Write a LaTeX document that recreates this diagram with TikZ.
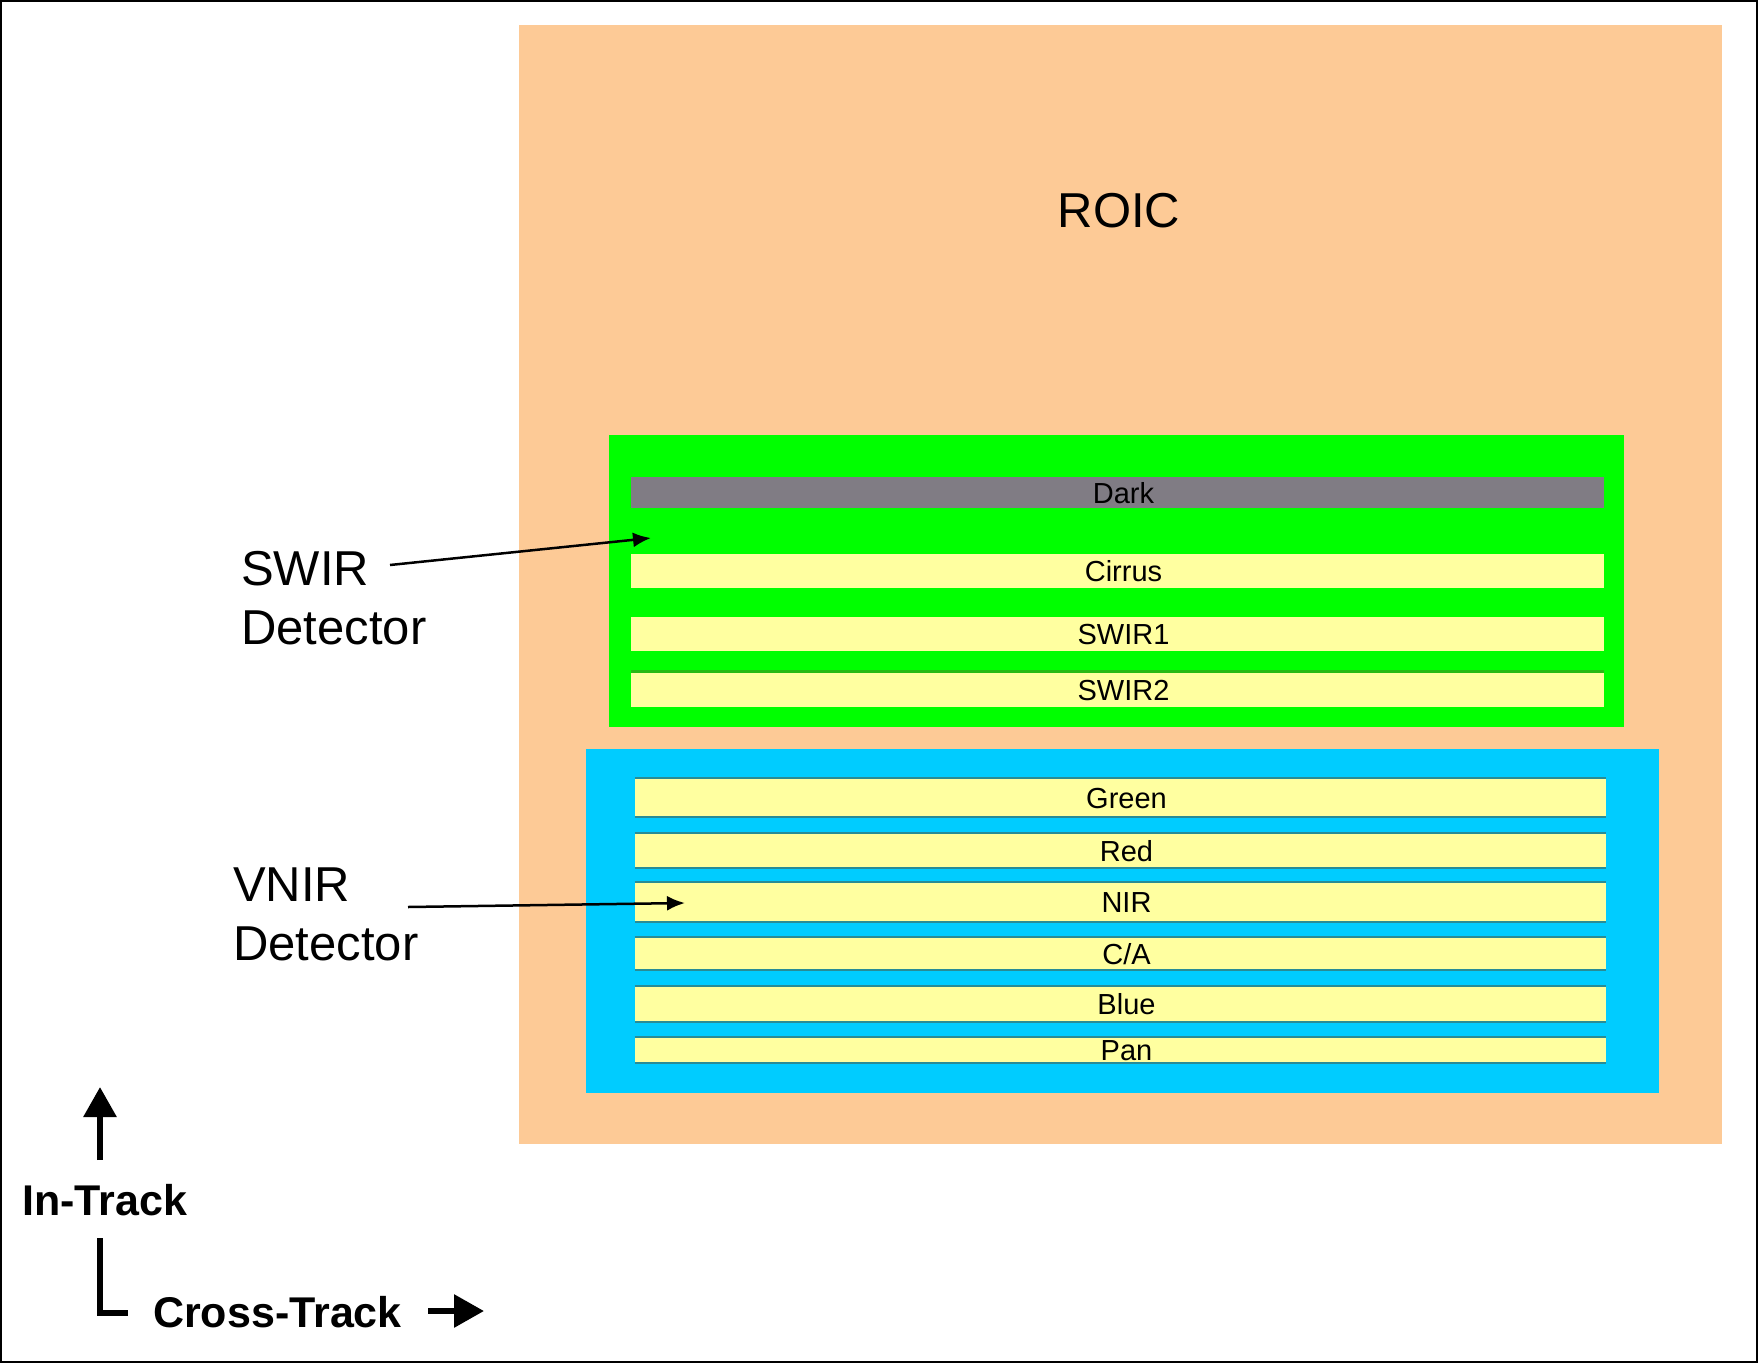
\documentclass[tikz,border=0pt]{standalone}
\usepackage{fontspec}
\setmainfont{Liberation Sans}
\usetikzlibrary{arrows.meta}
\definecolor{roic}{RGB}{253,202,150}
\definecolor{swirgreen}{RGB}{0,255,0}
\definecolor{darkband}{RGB}{128,124,132}
\definecolor{bandyellow}{RGB}{255,255,160}
\definecolor{vnirblue}{RGB}{0,204,255}
\definecolor{bandedge}{RGB}{40,140,150}
\definecolor{greenedge}{RGB}{40,185,20}
\begin{document}
\begin{tikzpicture}[x=1pt,y=-1pt,
  bandbox/.style={fill=bandyellow, inner sep=0pt, font=\fontsize{29}{34}\selectfont,
    text height=21pt, text depth=0pt, execute at begin node={\kern12pt}},
  swirband/.style={bandbox, minimum width=973pt},
  vnirband/.style={bandbox, minimum width=971pt},
  biglabel/.style={inner sep=0pt, font=\fontsize{49}{59}\selectfont, align=left, anchor=north west},
  axislabel/.style={inner sep=0pt, font=\bfseries\fontsize{43}{50}\selectfont, anchor=base west},
  pointer/.style={line width=2.5pt, -{Latex[length=18pt,width=15pt]}},
  axisline/.style={line width=6pt},
  axisarrow/.style={axisline, -{Triangle[length=30pt,width=32pt]}}]
\useasboundingbox (0,0) rectangle (1759,1363);
\fill[white] (0,0) rectangle (1759,1363);
\draw[line width=2pt] (1,1) rectangle (1757,1362);

% ROIC
\fill[roic] (519,25) rectangle (1722,1144);
\node[inner sep=0pt, font=\fontsize{49}{59}\selectfont, anchor=base] (roic) at (1119,227) {ROIC};

% SWIR detector
\fill[swirgreen] (609,435) rectangle (1624,727);
\node[swirband, fill=darkband, minimum height=31pt] (dark) at (1117.5,492.5) {Dark};
\node[swirband, minimum height=34pt] (cirrus) at (1117.5,571) {Cirrus};
\node[swirband, minimum height=34pt] (swir1) at (1117.5,634) {SWIR1};
\node[swirband, minimum height=35pt] (swir2) at (1117.5,689.5) {SWIR2};
\draw[greenedge, line width=3pt] (swir2.north west) -- (swir2.north east);

% VNIR detector
\fill[vnirblue] (586,749) rectangle (1659,1093);
\node[vnirband, minimum height=39pt] (green) at (1120.5,797.5) {Green};
\node[vnirband, minimum height=35pt] (red) at (1120.5,850.5) {Red};
\node[vnirband, minimum height=40pt] (nir) at (1120.5,902) {NIR};
\node[vnirband, minimum height=33pt] (ca) at (1120.5,953.5) {C/A};
\node[vnirband, minimum height=36pt] (blue) at (1120.5,1004) {Blue};
\node[vnirband, minimum height=26pt] (pan) at (1120.5,1050) {Pan};
\foreach \b in {green,red,nir,ca,blue,pan}{
  \draw[bandedge, line width=2.5pt] (\b.north west) -- (\b.north east);
  \draw[bandedge, line width=2.5pt] (\b.south west) -- (\b.south east);
}

% Labels and pointers
\node[biglabel] (swirlbl) at (241,551) {SWIR\\Detector};
\node[biglabel] (vnirlbl) at (233,868) {VNIR\\Detector};
\coordinate (swirstart) at (390,565);
\coordinate (swirend) at (651,538);
\coordinate (vnirstart) at (408,907);
\coordinate (vnirend) at (685,903);
\draw[pointer] (swirstart) -- (swirend);
\draw[pointer] (vnirstart) -- (vnirend);

% Axes
\node[axislabel] (intrack) at (22,1215) {In-Track};
\node[axislabel] (crosstrack) at (153,1327) {Cross-Track};
\coordinate (inbase) at (100,1160);
\coordinate (intip) at (100,1087);
\draw[axisarrow] (inbase) -- (intip);
\coordinate (cornertop) at (100,1238);
\coordinate (corner) at (100,1313);
\coordinate (cornerright) at (128,1313);
\draw[axisline] (cornertop) -- (corner) -- (cornerright);
\coordinate (crossbase) at (428,1311);
\coordinate (crosstip) at (484,1311);
\draw[axisarrow] (crossbase) -- (crosstip);
\end{tikzpicture}
\end{document}
